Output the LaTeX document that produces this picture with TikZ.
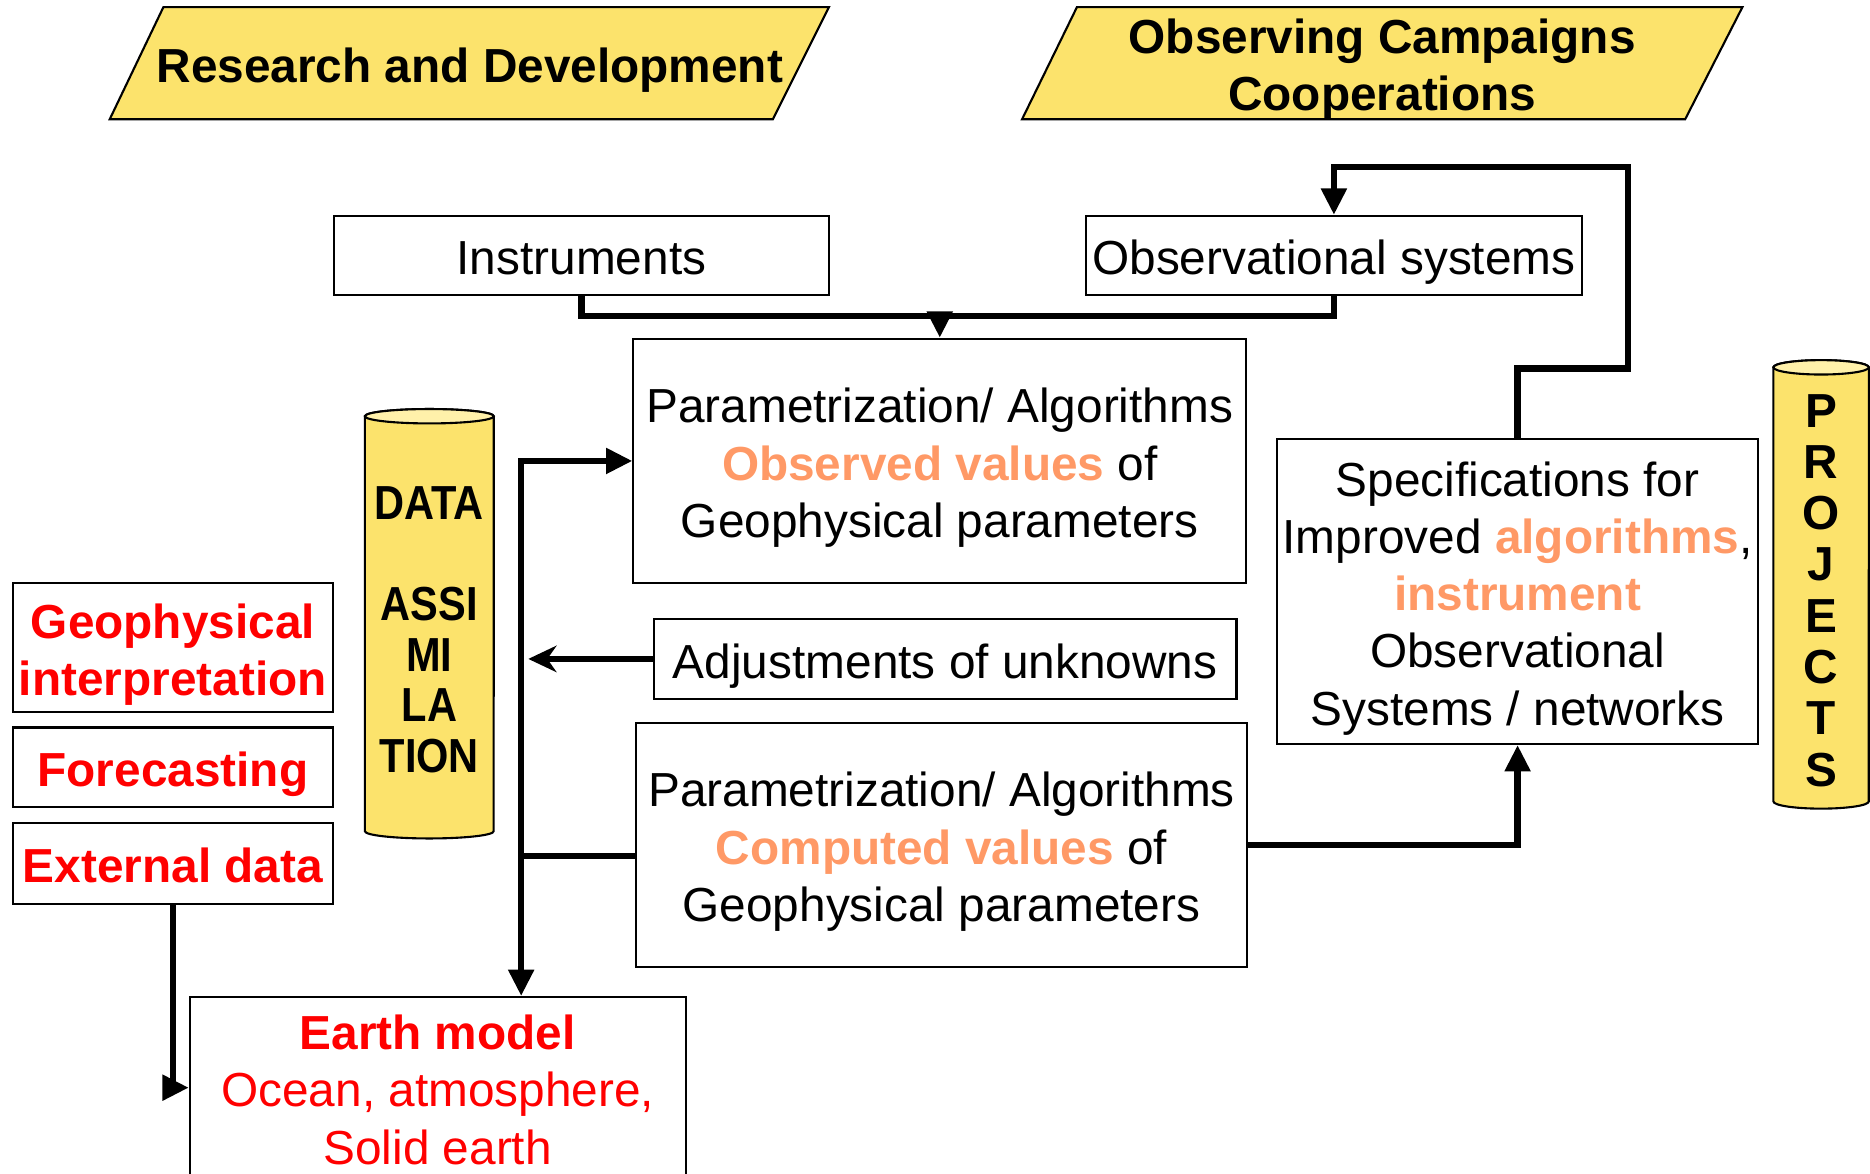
\documentclass[tikz,border=0pt]{standalone}
\usepackage{fontspec}
\setmainfont{Liberation Sans}
\usetikzlibrary{arrows.meta}

\definecolor{hdryellow}{RGB}{252,227,108}
\definecolor{capyellow}{RGB}{255,241,170}
\definecolor{valorange}{RGB}{255,153,102}
\definecolor{modelred}{RGB}{255,0,0}
\newcommand{\hlval}[1]{\textbf{\textcolor{valorange}{#1}}}
\newcommand{\narrow}[1]{\scalebox{0.87}[1]{#1}}

\begin{document}
\begin{tikzpicture}[x=0.011926cm,y=-0.011926cm,
  every node/.style={font=\fontsize{13.6}{16.3}\selectfont},
  box/.style={draw,line width=0.6pt,inner sep=0pt,align=center,text height=13.6pt,text depth=2.7pt},
  lines/.style={text height=13.6pt+(#1-1)*16.3pt},
  boldtxt/.style={font=\fontsize{13.6}{16.3}\selectfont\bfseries},
  redtxt/.style={text=modelred,font=\fontsize{13.6}{16.3}\selectfont\bfseries},
  link/.style={line width=1.8pt},
  arr/.style={-{Triangle[length=7.5pt,width=7pt]}}]
\clip (0,0) rectangle (1568,984);

% headers
\filldraw[fill=hdryellow,line width=0.6pt] (92,100) -- (137,6) -- (695,6) -- (648,100) -- cycle;
\node[boldtxt] (resdev) at (394,59) {Research and Development};
\filldraw[fill=hdryellow,line width=0.6pt] (857,100) -- (903,6) -- (1461,6) -- (1413,100) -- cycle;
\node[boldtxt,align=center] (campaigns) at (1159,58.5) {Observing Campaigns\\Cooperations};

% boxes
\node[box,minimum width=4.95cm,minimum height=0.787cm] (instr) at (487.5,214) {Instruments};
\node[box,minimum width=4.97cm,minimum height=0.787cm] (obsys) at (1118.5,214) {Observational systems};
\node[box,lines=3,minimum width=6.13cm,minimum height=2.445cm] (obsv) at (788,386.5)
  {Parametrization/ Algorithms\\\hlval{Observed values} of\\Geophysical parameters};
\node[box,minimum width=5.83cm,minimum height=0.80cm] (adj) at (792.5,552.5) {Adjustments of unknowns};
\node[box,lines=3,minimum width=6.12cm,minimum height=2.445cm] (comp) at (789.5,708.5)
  {Parametrization/ Algorithms\\\hlval{Computed values} of\\Geophysical parameters};
\node[box,lines=5,minimum width=4.81cm,minimum height=3.05cm] (spec) at (1272.5,496)
  {Specifications for\\Improved \hlval{algorithms},\\\hlval{instrument}\\Observational\\Systems / networks};

\node[box,lines=2,redtxt,minimum width=3.196cm,minimum height=1.29cm] (geo) at (145,543) {Geophysical\\interpretation};
\node[box,redtxt,minimum width=3.196cm,minimum height=0.80cm] (fcst) at (145,643.5) {Forecasting};
\node[box,redtxt,minimum width=3.196cm,minimum height=0.81cm] (ext) at (145,724) {External data};
\node[box,lines=3,text=modelred,minimum width=4.96cm,minimum height=1.813cm] (earth) at (367,912)
  {\textbf{Earth model}\\Ocean, atmosphere,\\Solid earth};

% cylinders
\filldraw[fill=hdryellow,line width=0.6pt] (306,349) -- (306,697)
  arc[start angle=180,end angle=360,x radius=0.644cm,y radius=0.072cm] -- (414,349)
  arc[start angle=0,end angle=180,x radius=0.644cm,y radius=0.072cm] -- cycle;
\filldraw[fill=capyellow,line width=0.6pt] (360,349) ellipse [x radius=0.644cm,y radius=0.072cm];
\node[align=center,font=\fontsize{13.6}{14.4}\selectfont\bfseries] (assim) at (360,528)
  {\narrow{DATA}\\[14.4pt]\narrow{ASSI}\\\narrow{MI}\\\narrow{LA}\\\narrow{TION}};

\filldraw[fill=hdryellow,line width=0.6pt] (1487,308) -- (1487,672)
  arc[start angle=180,end angle=360,x radius=0.477cm,y radius=0.072cm] -- (1567,308)
  arc[start angle=0,end angle=180,x radius=0.477cm,y radius=0.072cm] -- cycle;
\filldraw[fill=capyellow,line width=0.6pt] (1527,308) ellipse [x radius=0.477cm,y radius=0.072cm];
\node[align=center,font=\fontsize{13.6}{14.6}\selectfont\bfseries] (proj) at (1527,495)
  {P\\R\\O\\J\\E\\C\\T\\S};

% connectors
\coordinate (split) at (788,265);
\draw[link] (instr.south) |- (split) -| (obsys.south);
\draw[link,arr] (split) -- (obsv.north);

\coordinate (fbtop) at (1365,140);
\draw[link,arr] (spec.north) |- (fbtop |- 0,309) -- (fbtop) -| (obsys.north);
\draw[link,arr] (comp.east) -| (spec.south);

\coordinate (adjend) at (443,552.5);
\draw[link,-{Stealth[length=8pt,width=7.5pt]}] (adj.west) -- (adjend);

\coordinate (jn) at (437,718);
\draw[link] (jn -| comp.west) -- (jn);
\draw[link,arr] (jn) |- (obsv.west);
\draw[link,arr] (jn) -- (jn |- earth.north);
\draw[link,arr] (ext.south) |- (earth.west);
\end{tikzpicture}
\end{document}
